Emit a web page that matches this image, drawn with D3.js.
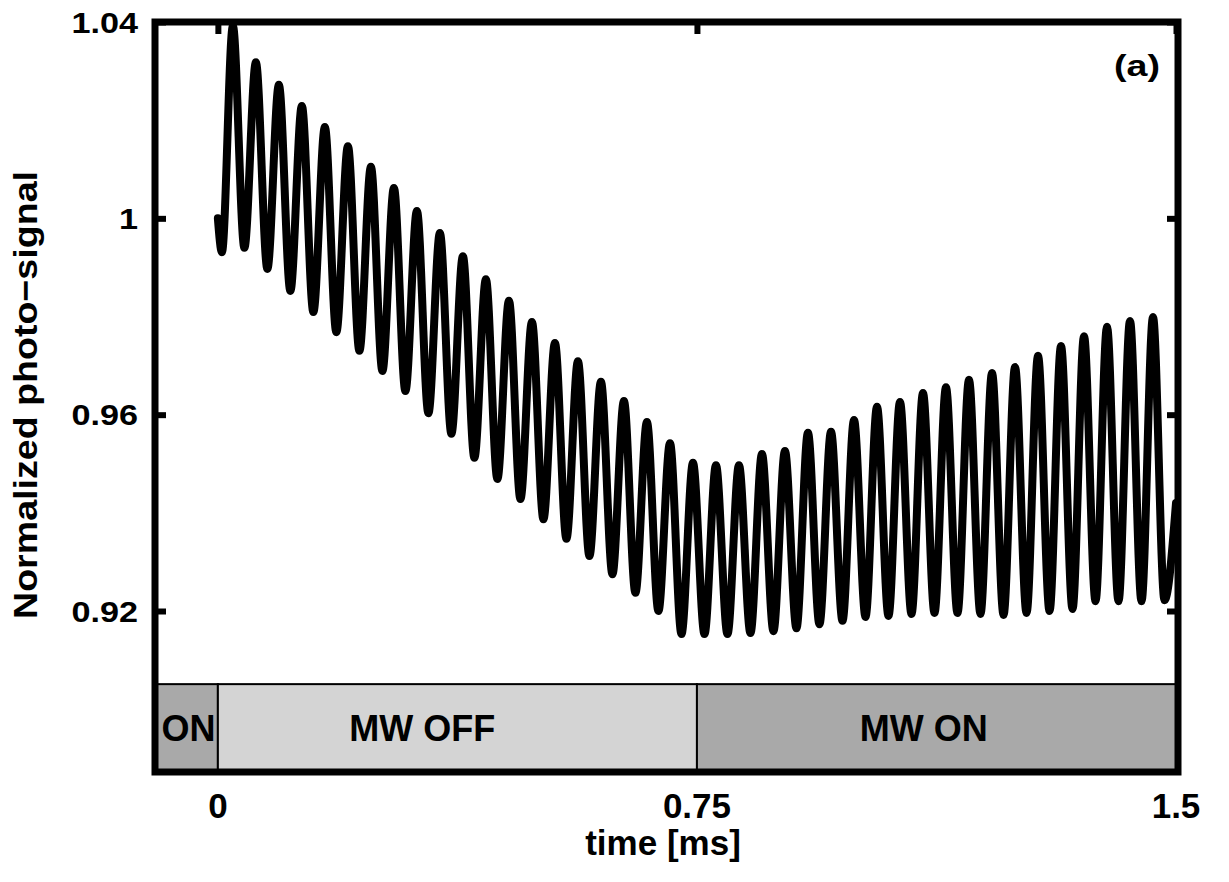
<!DOCTYPE html>
<html>
<head>
<meta charset="utf-8">
<script src="https://cdn.jsdelivr.net/npm/d3@7"></script>
<style>
  html, body { margin: 0; padding: 0; background: #fff; }
  svg { display: block; font-family: "Liberation Sans", Arial, Helvetica, sans-serif; font-weight: bold; }
</style>
</head>
<body>
<svg id="chart" width="1229" height="882"></svg>
<script>
// Sequence phases shown as the band along the bottom of the plot
const phaseNames = ["ON", "MW OFF", "MW ON"];
const phaseStart = [-0.1, 0, 0.75];
const phaseEnd = [0, 0.75, 1.5];

// Axis ticks
const xTicks = [0, 0.75, 1.5];
const xTickLabels = ["0", "0.75", "1.5"];
const yTicks = [0.92, 0.96, 1, 1.04];
const yTickLabels = ["0.92", "0.96", "1", "1.04"];

// Photo-signal trace: successive turning points (maxima / minima) of the oscillation
const timeMs = [
  0, 0.0063,
  0.0235, 0.0415, 0.0595, 0.0775, 0.0955, 0.1135, 0.1315, 0.1495,
  0.1675, 0.1855, 0.2036, 0.2216, 0.2396, 0.2576, 0.2756, 0.2936,
  0.3116, 0.3296, 0.3476, 0.3656, 0.3836, 0.4016, 0.4196, 0.4376,
  0.4557, 0.4737, 0.4917, 0.5097, 0.5277, 0.5457, 0.5637, 0.5817,
  0.5997, 0.6177, 0.6357, 0.6537, 0.6717, 0.6897, 0.7078, 0.7258,
  0.7438, 0.7618, 0.7798, 0.7978, 0.8158, 0.8338, 0.8518, 0.8698,
  0.8878, 0.9058, 0.9238, 0.9418, 0.9599, 0.9779, 0.9959, 1.0139,
  1.0319, 1.0499, 1.0679, 1.0859, 1.1039, 1.1219, 1.1399, 1.1579,
  1.1759, 1.1939, 1.2120, 1.2300, 1.2480, 1.2660, 1.2840, 1.3020,
  1.3200, 1.3380, 1.3560, 1.3740, 1.3920, 1.4100, 1.4280, 1.4460,
  1.4640, 1.4820, 1.5
];
const photoSignal = [
  1.000, 0.9931,
  1.0392, 0.9940, 1.0318, 0.9897, 1.0272, 0.9852, 1.0229, 0.9809,
  1.0186, 0.9768, 1.0147, 0.9730, 1.0105, 0.9689, 1.0062, 0.9648,
  1.0015, 0.9603, 0.9970, 0.9561, 0.9923, 0.9512, 0.9876, 0.9469,
  0.9832, 0.9428, 0.9789, 0.9387, 0.9746, 0.9347, 0.9709, 0.9312,
  0.9667, 0.9275, 0.9628, 0.9237, 0.9585, 0.9200, 0.9542, 0.9153,
  0.9502, 0.9153, 0.9497, 0.9153, 0.9497, 0.9155, 0.9520, 0.9159,
  0.9526, 0.9165, 0.9563, 0.9173, 0.9565, 0.9180, 0.9589, 0.9188,
  0.9616, 0.9190, 0.9626, 0.9194, 0.9644, 0.9196, 0.9656, 0.9196,
  0.9671, 0.9194, 0.9685, 0.9192, 0.9697, 0.9196, 0.9720, 0.9200,
  0.9740, 0.9204, 0.9760, 0.9220, 0.9779, 0.9220, 0.9791, 0.9220,
  0.9799, 0.9222, 0.942
];

const svg = d3.select("#chart");

// Plot frame (pixels)
const frame = { left: 155, right: 1178, top: 22, bottom: 772 };

const x = d3.scaleLinear().domain([-0.1, 1.5]).range([154, 1176]);
const y = d3.scaleLinear().domain([0.8872, 1.04]).range([frame.bottom, frame.top]);

const bandTop = 0.9051;
const phaseFill = { "ON": "#a9a9a9", "MW OFF": "#d4d4d4", "MW ON": "#a9a9a9" };
const phaseLabelAt = { "ON": -0.046, "MW OFF": 0.32, "MW ON": 1.105 };

svg.append("defs").append("clipPath").attr("id", "plotClip")
  .append("rect")
  .attr("x", frame.left).attr("y", frame.top)
  .attr("width", frame.right - frame.left).attr("height", frame.bottom - frame.top);

// Phase band
const phases = phaseNames.map((name, i) => ({ name, start: phaseStart[i], end: phaseEnd[i] }));
const band = svg.append("g");
band.selectAll("rect").data(phases).join("rect")
  .attr("x", d => x(d.start))
  .attr("y", y(bandTop))
  .attr("width", d => x(d.end) - x(d.start))
  .attr("height", y(0.8872) - y(bandTop))
  .attr("fill", d => phaseFill[d.name])
  .attr("stroke", "#000")
  .attr("stroke-width", 2);
band.selectAll("text").data(phases).join("text")
  .attr("x", d => x(phaseLabelAt[d.name]))
  .attr("y", (y(bandTop) + y(0.8872)) / 2)
  .attr("dy", "0.36em")
  .attr("text-anchor", "middle")
  .attr("font-size", 36)
  .attr("fill", "#000")
  .text(d => d.name);

// Signal trace
const points = timeMs.map((t, i) => [t, photoSignal[i]]);
const line = d3.line()
  .x(d => x(d[0]))
  .y(d => y(d[1]))
  .curve(d3.curveMonotoneX);
svg.append("path")
  .datum(points)
  .attr("clip-path", "url(#plotClip)")
  .attr("d", line)
  .attr("fill", "none")
  .attr("stroke", "#000")
  .attr("stroke-width", 8)
  .attr("stroke-linejoin", "round")
  .attr("stroke-linecap", "round");

// Inward tick marks on left, right and top edges
function styleTicks(g) {
  g.select(".domain").remove();
  g.selectAll(".tick line").attr("stroke", "#000").attr("stroke-width", 6);
  g.selectAll(".tick text").remove();
}
svg.append("g").attr("transform", `translate(${frame.left},0)`)
  .call(d3.axisLeft(y).tickValues(yTicks).tickSize(-11)).call(styleTicks);
svg.append("g").attr("transform", `translate(${frame.right},0)`)
  .call(d3.axisRight(y).tickValues(yTicks).tickSize(-11)).call(styleTicks);
svg.append("g").attr("transform", `translate(0,${frame.top})`)
  .call(d3.axisTop(x).tickValues(xTicks).tickSize(-12)).call(styleTicks);

// Frame
svg.append("rect")
  .attr("x", frame.left).attr("y", frame.top)
  .attr("width", frame.right - frame.left).attr("height", frame.bottom - frame.top)
  .attr("fill", "none").attr("stroke", "#000").attr("stroke-width", 7);

// Y tick labels
svg.append("g").selectAll("text").data(yTicks).join("text")
  .attr("transform", d => `translate(138,${y(d)}) scale(1.14,1)`)
  .attr("dy", "0.36em")
  .attr("text-anchor", "end")
  .attr("font-size", 30)
  .text((d, i) => yTickLabels[i]);

// X tick labels
svg.append("g").selectAll("text").data(xTicks).join("text")
  .attr("x", d => x(d))
  .attr("y", 818)
  .attr("text-anchor", "middle")
  .attr("font-size", 35)
  .text((d, i) => xTickLabels[i]);

// Axis titles
svg.append("text")
  .attr("x", 663).attr("y", 855)
  .attr("text-anchor", "middle")
  .attr("font-size", 35)
  .text("time [ms]");

svg.append("text")
  .attr("transform", "translate(37,395) rotate(-90)")
  .attr("text-anchor", "middle")
  .attr("font-size", 34)
  .attr("textLength", 448)
  .attr("lengthAdjust", "spacingAndGlyphs")
  .text("Normalized photo\u2212signal");

// Panel label
svg.append("text")
  .attr("x", 1160).attr("y", 76)
  .attr("text-anchor", "end")
  .attr("font-size", 30)
  .attr("textLength", 46)
  .attr("lengthAdjust", "spacingAndGlyphs")
  .text("(a)");
</script>
</body>
</html>
